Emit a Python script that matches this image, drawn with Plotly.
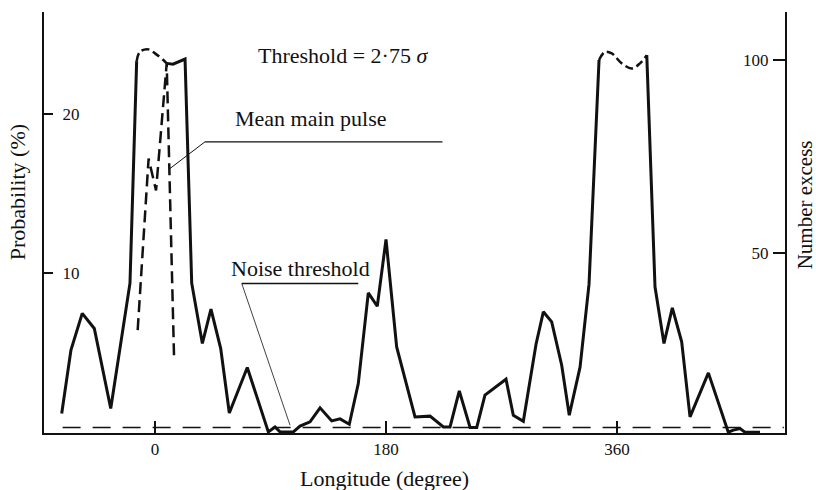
import plotly.graph_objects as go

# ---------------- data ----------------
# observed probability profile (solid); None marks the clipped (dashed) tops
longitude = [-72.7, -65.5, -56.7, -47.3, -34.5, -19.5, -14.3, None,
             9.1, 14.0, 23.4, 28.6, 36.9, 43.6, 51.2, 57.9, 71.9, 88.3, 93.5,
             97.4, 107.8, 113.0, 120.8, 128.6, 137.7, 144.2, 151.4, 158.4,
             166.2, 173.2, 180.0, 188.3, 202.6, 214.3, 224.7, 229.9, 237.1,
             245.5, 250.7, 257.1, 273.5, 279.2, 287.0, 296.9, 302.6, 309.1,
             316.9, 322.8, 331.2, 338.2, 346.0, None,
             383.2, 389.6, 396.6, 403.1, 410.4, 416.9, 431.2, 446.7, 450.6,
             455.9, 459.7, 471.4]
probability = [1.18, 5.16, 7.47, 6.52, 1.49, 9.37, 23.33, None,
               23.19, 23.14, 23.46, 9.37, 5.58, 7.74, 5.26, 1.21, 4.07, 0.02, 0.33,
               0.02, 0.02, 0.38, 0.65, 1.53, 0.71, 0.84, 0.50, 3.06,
               8.76, 7.92, 12.12, 5.36, 0.96, 1.01, 0.33, 0.33, 2.60,
               0.30, 0.30, 2.33, 3.33, 1.07, 0.69, 5.53, 7.57, 6.94,
               4.21, 1.07, 4.09, 9.31, 23.40, None,
               23.71, 9.14, 5.58, 7.82, 5.68, 0.96, 3.73, 0.0, 0.13,
               0.23, 0.0, 0.0]

# clipped tops of the two main pulses (dashed)
cap1_lon = [-14.3, -11.7, -5.2, 0.0, 6.5, 9.1]
cap1_prob = [23.33, 23.92, 24.07, 23.82, 23.40, 23.19]
cap2_lon = [346.0, 350.6, 355.9, 363.7, 371.5, 377.9, 383.2]
cap2_prob = [23.40, 23.91, 23.82, 23.19, 22.87, 23.19, 23.71]

# mean main pulse (dashed)
mean_lon = [-13.5, -5.0, 0.8, 9.1, 14.8]
mean_prob = [6.42, 17.20, 15.20, 23.19, 4.84]

# noise threshold (dashed)
noise_lon = [-72.0, 490.0]
noise_prob = [0.3, 0.3]

x_ticks = [0, 180, 360]
y_ticks = [10, 20]
y2_ticks = [50, 100]

FONT = "Liberation Serif"
INK = "#111111"

fig = go.Figure()
fig.add_trace(go.Scatter(x=longitude, y=probability, mode="lines",
                         line=dict(color=INK, width=3), connectgaps=False,
                         showlegend=False, hoverinfo="skip"))
for cx, cy in ((cap1_lon, cap1_prob), (cap2_lon, cap2_prob)):
    fig.add_trace(go.Scatter(x=cx, y=cy, mode="lines",
                             line=dict(color=INK, width=2.5, dash="8px,4px", shape="spline"),
                             showlegend=False, hoverinfo="skip"))
fig.add_trace(go.Scatter(x=mean_lon, y=mean_prob, mode="lines",
                         line=dict(color=INK, width=2.5, dash="12px,6px"),
                         showlegend=False, hoverinfo="skip"))
fig.add_trace(go.Scatter(x=noise_lon, y=noise_prob, mode="lines",
                         line=dict(color=INK, width=1.6, dash="18px,12px"),
                         showlegend=False, hoverinfo="skip"))
# right axis carrier
fig.add_trace(go.Scatter(x=[None], y=[None], yaxis="y2", mode="lines",
                         showlegend=False, hoverinfo="skip"))

# leader lines
fig.add_shape(type="line", xref="x", yref="y", x0=11.7, y0=16.58, x1=39.0, y1=18.26,
              line=dict(color=INK, width=1))
fig.add_shape(type="line", xref="x", yref="y", x0=39.0, y0=18.26, x1=224.0, y1=18.26,
              line=dict(color=INK, width=1.3))
fig.add_shape(type="line", xref="x", yref="y", x0=105.2, y0=0.44, x1=67.6, y1=9.35,
              line=dict(color=INK, width=0.8))
fig.add_shape(type="line", xref="x", yref="y", x0=67.6, y0=9.35, x1=158.4, y1=9.35,
              line=dict(color=INK, width=1.3))

tfont = dict(family=FONT, size=22, color=INK)
fig.add_annotation(x=79.0, y=23.71, xref="x", yref="y", text="Threshold = 2·75 <i>σ</i>",
                   showarrow=False, xanchor="left", yanchor="middle", font=tfont)
fig.add_annotation(x=60.5, y=19.75, xref="x", yref="y", text="Mean main pulse",
                   showarrow=False, xanchor="left", yanchor="middle", font=tfont)
fig.add_annotation(x=58.0, y=10.31, xref="x", yref="y", text="Noise threshold",
                   showarrow=False, xanchor="left", yanchor="middle", font=tfont)
# axis titles
fig.add_annotation(x=179, y=-0.107, xref="x", yref="paper", text="Longitude (degree)",
                   showarrow=False, xanchor="center", yanchor="middle", font=tfont)
fig.add_annotation(x=-0.0364, y=0.572, xref="paper", yref="paper", text="Probability (%)",
                   showarrow=False, textangle=-90, xanchor="center", yanchor="middle", font=tfont)
fig.add_annotation(x=1.0275, y=0.5416, xref="paper", yref="paper", text="Number excess",
                   showarrow=False, textangle=-90, xanchor="center", yanchor="middle",
                   font=dict(family=FONT, size=21, color=INK))

tick_font = dict(family=FONT, size=17, color=INK)
fig.update_layout(
    width=816, height=490,
    margin=dict(l=44, r=31, t=12, b=57),
    paper_bgcolor="white", plot_bgcolor="white",
    font=dict(family=FONT, color=INK),
    xaxis=dict(range=[-86.5, 490.9], tickvals=x_ticks, ticks="inside", ticklen=12,
               tickwidth=1.5, tickcolor=INK, showline=True, linewidth=2, linecolor=INK,
               showgrid=False, zeroline=False, tickfont=tick_font),
    yaxis=dict(range=[-0.05, 26.42], tickvals=y_ticks, ticks="inside", ticklen=9,
               tickwidth=1.5, tickcolor=INK, ticklabelposition="inside",
               ticklabelstandoff=10,
               showline=True, linewidth=2, linecolor=INK,
               showgrid=False, zeroline=False, tickfont=tick_font),
    yaxis2=dict(range=[3.37, 112.4], tickvals=y2_ticks, overlaying="y", side="right",
                anchor="x", ticks="inside", ticklen=12, tickwidth=1.5, tickcolor=INK,
                ticklabelposition="inside", ticklabelstandoff=5,
                showline=True, linewidth=2, linecolor=INK,
                showgrid=False, zeroline=False, tickfont=tick_font),
)

fig.write_html("out.html")
